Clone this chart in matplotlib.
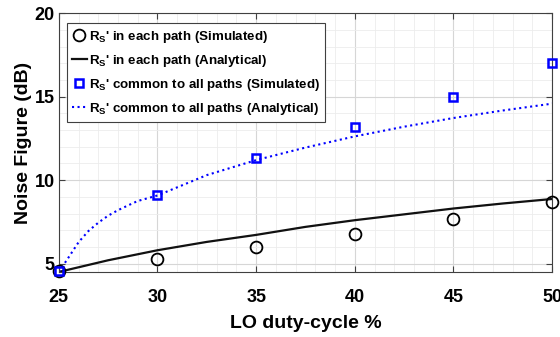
import numpy as np
import matplotlib
matplotlib.use("Agg")
import matplotlib.pyplot as plt
from matplotlib.ticker import MultipleLocator

plt.rcParams['font.family'] = ['Liberation Sans', 'DejaVu Sans']
plt.rcParams['font.weight'] = 'bold'
plt.rcParams['mathtext.fontset'] = 'custom'
plt.rcParams['mathtext.rm'] = 'Liberation Sans:bold'
plt.rcParams['mathtext.it'] = 'Liberation Sans:bold'
plt.rcParams['mathtext.bf'] = 'Liberation Sans:bold'

# simulated points (LO duty cycle in %)
duty_sim = [25, 30, 35, 40, 45, 50]
nf_each_sim = [4.55, 5.25, 5.97, 6.8, 7.65, 8.67]
nf_common_sim = [4.55, 9.1, 11.3, 13.2, 15.0, 17.0]

# analytical curves
duty_each_an = [25, 27.5, 30, 32.5, 35, 37.5, 40, 42.5, 45, 47.5, 50]
nf_each_an = [4.5, 5.2, 5.8, 6.3, 6.72, 7.2, 7.6, 7.95, 8.3, 8.6, 8.87]
duty_common_an = [25, 25.5, 26, 26.5, 27, 27.5, 28, 28.5, 29, 30,
                  32.5, 35, 37.5, 40, 42.5, 45, 47.5, 50]
nf_common_an = [4.5, 5.38, 6.28, 6.95, 7.45, 7.87, 8.2, 8.48, 8.75, 9.08,
                10.3, 11.2, 11.95, 12.62, 13.2, 13.72, 14.17, 14.58]

fig = plt.figure(figsize=(5.6, 3.37), dpi=100)
ax = fig.add_axes([0.105, 0.193, 0.881, 0.768])

ax.plot(duty_sim, nf_each_sim, 'o', mfc='none', mec='k', ms=8.5, mew=1.3,
        clip_on=False, zorder=4, label="R$_S$' in each path (Simulated)")
ax.plot(duty_each_an, nf_each_an, '-', color='#111111', lw=1.6,
        label="R$_S$' in each path (Analytical)")
ax.plot(duty_sim, nf_common_sim, 's', mfc='none', mec='b', ms=5.8, mew=1.8,
        clip_on=False, zorder=4, label="R$_S$' common to all paths (Simulated)")
ax.plot(duty_common_an, nf_common_an, ':', color='b', lw=1.5,
        label="R$_S$' common to all paths (Analytical)")

ax.set_xlim(25, 50)
ax.set_ylim(4.5, 20)
ax.set_xticks([25, 30, 35, 40, 45, 50])
ax.set_yticks([5, 10, 15, 20])
ax.xaxis.set_minor_locator(MultipleLocator(1))
ax.yaxis.set_minor_locator(MultipleLocator(1))
ax.grid(True, which='major', color='#d6d6d6', lw=0.8)
ax.grid(True, which='minor', color='#ececec', lw=0.6)
ax.set_axisbelow(True)
ax.tick_params(which='both', direction='in', top=True, right=True, color='#404040')
ax.tick_params(which='minor', length=0)
ax.tick_params(which='major', labelsize=13, length=4)
ax.tick_params(axis='x', pad=12)
ax.tick_params(axis='y', pad=3)
for s in ax.spines.values():
    s.set_color('#404040')
    s.set_linewidth(0.8)

ax.set_xlabel('LO duty-cycle %', fontsize=14, fontweight='bold', labelpad=7)
ax.set_ylabel('Noise Figure (dB)', fontsize=14, fontweight='bold', labelpad=2)

leg = ax.legend(loc='upper left', bbox_to_anchor=(0.016, 0.961), borderaxespad=0,
                fontsize=9.6, handlelength=1.1, handletextpad=0.15, labelspacing=0.6,
                borderpad=0.4, fancybox=False, framealpha=1, edgecolor='#404040')
leg.get_frame().set_linewidth(0.8)

fig.savefig('out.png', dpi=100)
